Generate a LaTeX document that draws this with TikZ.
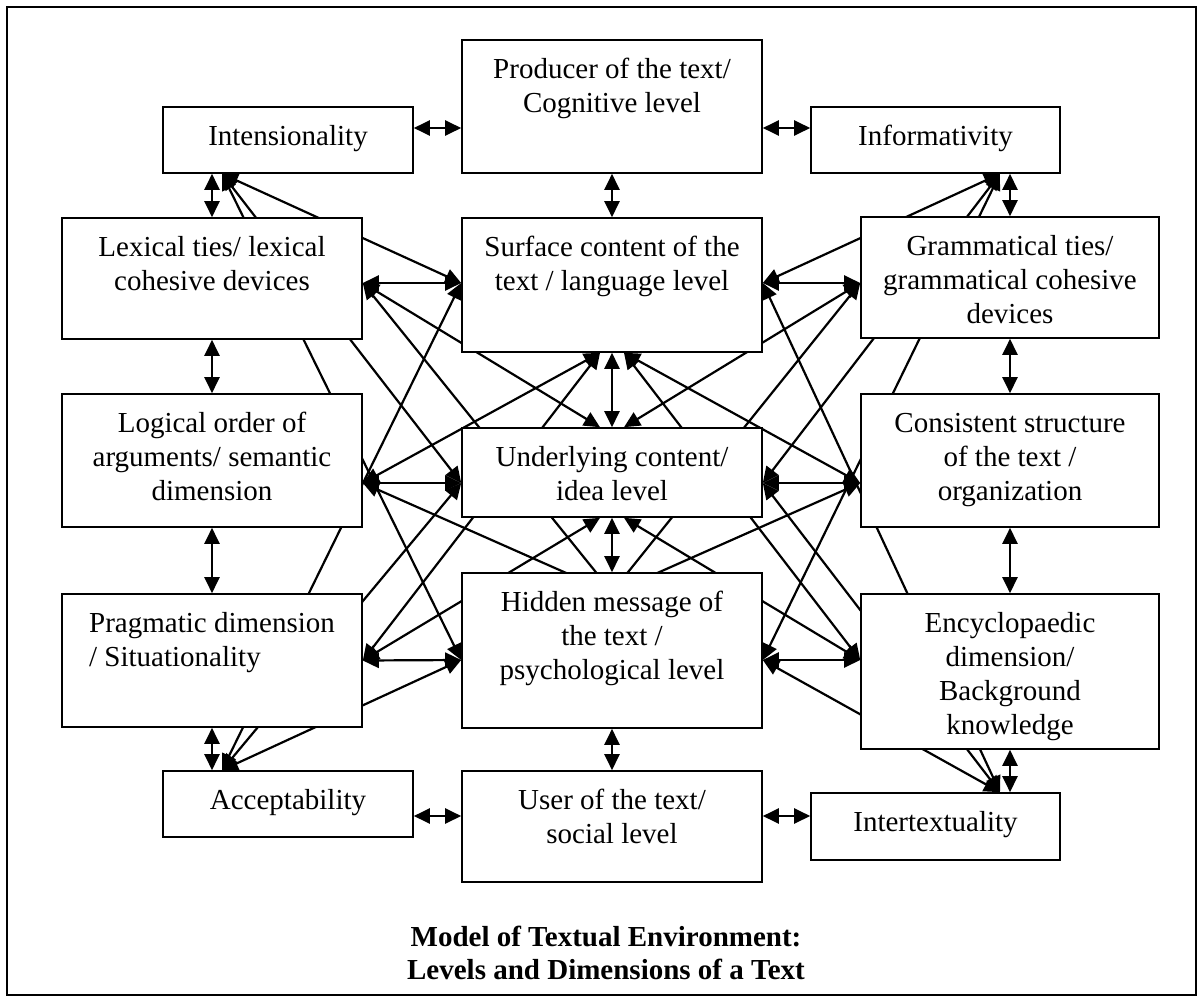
\documentclass[tikz,border=0pt]{standalone}
\usepackage{fontspec}
\setmainfont{Liberation Serif}
\usetikzlibrary{arrows.meta,backgrounds,calc}

\begin{document}
\begin{tikzpicture}[x=0.5pt,y=-0.5pt,
    box/.style={draw,fill=white,line width=0.8pt,inner sep=0pt},
    wh/.style 2 args={minimum width=#1*0.5pt,minimum height=#2*0.5pt},
    txt/.style={anchor=north,align=center,inner xsep=0pt,inner ysep=7.5pt,
      font=\fontsize{14.5}{17}\selectfont},
    link/.style={line width=1.1pt,{Triangle[length=8pt,width=7.5pt]}-{Triangle[length=8pt,width=7.5pt]}},
    halflink/.style={line width=1.1pt,{Triangle[length=8pt,width=7.5pt]}-}]
    \useasboundingbox (0,0) rectangle (1203,1000);
    \draw[line width=0.8pt] (7,7) rectangle (1196,995);

    \node[box,wh={300}{133}] (prod) at (612,106.5) {};
    \node[box,wh={250}{66}] (intens) at (288,140) {};
    \node[box,wh={249}{66}] (inform) at (935.5,140) {};
    \node[box,wh={300}{121}] (lex) at (212,278.5) {};
    \node[box,wh={300}{134}] (surf) at (612,285) {};
    \node[box,wh={298}{121}] (gram) at (1010,277.5) {};
    \node[box,wh={300}{133}] (logic) at (212,460.5) {};
    \node[box,wh={300}{89}] (under) at (612,472.5) {};
    \node[box,wh={298}{133}] (cons) at (1010,460.5) {};
    \node[box,wh={300}{133}] (prag) at (212,660.5) {};
    \node[box,wh={300}{155}] (hid) at (612,650.5) {};
    \node[box,wh={298}{155}] (ency) at (1010,671.5) {};
    \node[box,wh={250}{66}] (accept) at (288,804) {};
    \node[box,wh={300}{111}] (user) at (612,826.5) {};
    \node[box,wh={249}{67}] (intert) at (935.5,826.5) {};

    \node[txt] (prodt) at (prod.north) {\strut Producer of the text/\\Cognitive level};
    \node[txt] (intenst) at (intens.north) {\strut Intensionality};
    \node[txt] (informt) at (inform.north) {\strut Informativity};
    \node[txt] (lext) at (lex.north) {\strut Lexical ties/ lexical\\cohesive devices};
    \node[txt] (surft) at (surf.north) {\strut Surface content of the\\text / language level};
    \node[txt] (gramt) at (gram.north) {\strut Grammatical ties/\\grammatical cohesive\\devices};
    \node[txt] (logict) at (logic.north) {\strut Logical order of\\arguments/ semantic\\dimension};
    \node[txt] (undert) at (under.north) {\strut Underlying content/\\idea level};
    \node[txt] (const) at (cons.north) {\strut Consistent structure\\of the text /\\organization};
    \node[txt,align=left] (pragt) at (prag.north) {\strut Pragmatic dimension\\/ Situationality};
    \node[txt] (hidt) at (hid.north) {\strut Hidden message of\\the text /\\psychological level};
    \node[txt] (encyt) at (ency.north) {\strut Encyclopaedic\\dimension/\\Background\\knowledge};
    \node[txt] (acceptt) at (accept.north) {\strut Acceptability};
    \node[txt] (usert) at (user.north) {\strut User of the text/\\social level};
    \node[txt] (intertt) at (intert.north) {\strut Intertextuality};

    \node[align=center,font=\fontsize{14.5}{16.5}\selectfont\bfseries] (title) at (606,953)
      {Model of Textual Environment:\\Levels and Dimensions of a Text};

    \coordinate (intE) at ($(intens.east)+(0,-12)$);
    \coordinate (prodW) at ($(prod.west)+(0,21.5)$);
    \coordinate (prodE) at ($(prod.east)+(0,21.5)$);
    \coordinate (infW) at ($(inform.west)+(0,-12)$);
    \coordinate (accE) at ($(accept.east)+(0,12)$);
    \coordinate (userW) at ($(user.west)+(0,-10.5)$);
    \coordinate (userE) at ($(user.east)+(0,-10.5)$);
    \coordinate (itxW) at ($(intert.west)+(0,-10.5)$);
    \coordinate (lexR) at ($(lex.east)+(0,4.5)$);
    \coordinate (logR) at ($(logic.east)+(0,22.5)$);
    \coordinate (pragR) at (prag.east);
    \coordinate (surfL) at ($(surf.west)+(0,-2)$);
    \coordinate (undL) at ($(under.west)+(0,10.5)$);
    \coordinate (hidL) at ($(hid.west)+(0,9.5)$);
    \coordinate (surfR) at ($(surf.east)+(0,-2)$);
    \coordinate (undR) at ($(under.east)+(0,10.5)$);
    \coordinate (hidR) at ($(hid.east)+(0,9.5)$);
    \coordinate (gramL) at ($(gram.west)+(0,5.5)$);
    \coordinate (consL) at ($(cons.west)+(0,22.5)$);
    \coordinate (encyL) at ($(ency.west)+(0,-11.5)$);
    \coordinate (surfBL) at ($(surf.south)+(-12,0)$);
    \coordinate (surfBR) at ($(surf.south)+(12,0)$);
    \coordinate (undTL) at ($(under.north)+(-12,0)$);
    \coordinate (undTR) at ($(under.north)+(12,0)$);
    \coordinate (undBL) at ($(under.south)+(-12,0)$);
    \coordinate (undBR) at ($(under.south)+(12,0)$);
    \coordinate (hidIL) at ($(hid.center)+(20,-33.5)$);
    \coordinate (hidIR) at ($(hid.center)+(-20,-33.5)$);
    \coordinate (intB) at ($(intens.south)+(-66,0)$);
    \coordinate (accT) at ($(accept.north)+(-66,0)$);
    \coordinate (infB) at ($(inform.south)+(64.5,0)$);
    \coordinate (itxT) at ($(intert.north)+(64.5,0)$);

    \begin{pgfonlayer}{background}
    \draw[link] (intE) -- (prodW);
    \draw[link] (prodE) -- (infW);
    \draw[link] (accE) -- (userW);
    \draw[link] (userE) -- (itxW);
    \draw[link] (lex.north) -- (lex.north |- intens.south);
    \draw[link] (gram.north) -- (gram.north |- inform.south);
    \draw[link] (prag.south) -- (prag.south |- accept.north);
    \draw[link] (ency.south) -- (ency.south |- intert.north);
    \foreach \a/\b in {prod/surf, surf/under, under/hid, hid/user,
                       lex/logic, logic/prag, gram/cons, cons/ency} {
      \draw[link] (\a.south) -- (\b.north);
    }
    \foreach \a/\b in {lexR/surfL, logR/undL, pragR/hidL,
                       surfR/gramL, undR/consL, hidR/encyL,
                       intB/surfL, intB/undL, intB/hidL,
                       accT/surfL, accT/undL, accT/hidL,
                       infB/surfR, infB/undR, infB/hidR,
                       itxT/surfR, itxT/undR, itxT/hidR,
                       lexR/undTL, surfBL/logR, surfBL/pragR, undBL/pragR,
                       gramL/undTR, surfBR/consL, surfBR/encyL, undBR/encyL} {
      \draw[link] (\a) -- (\b);
    }
    \foreach \a/\b in {lexR/hidIL, logR/hidR, gramL/hidIR, consL/hidL} {
      \draw[halflink] (\a) -- (\b);
    }
    \end{pgfonlayer}
  \end{tikzpicture}
\end{document}
